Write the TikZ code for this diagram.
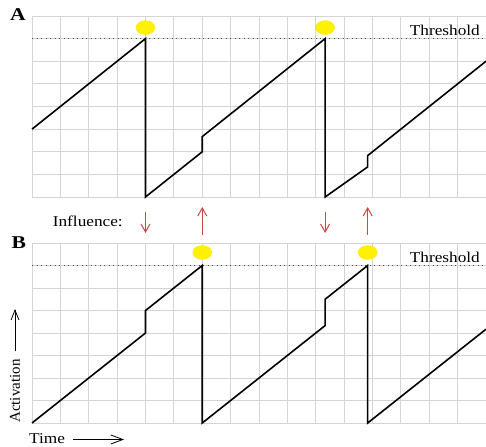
\documentclass[tikz,border=0pt]{standalone}
\usepackage{fontspec}
\setmainfont{Liberation Serif}
\usetikzlibrary{arrows.meta}
\definecolor{inflred}{RGB}{205,70,70}
\definecolor{gridgray}{RGB}{212,212,212}

\begin{document}
\begin{tikzpicture}[x=1pt, y=1pt,
		gridline/.style={draw=gridgray, line width=0.8pt},
		curve/.style={line width=1.6pt, line join=miter},
		thresh/.style={draw=black!70, line width=0.9pt, dash pattern=on 1pt off 3.5pt},
		fire/.style={fill=yellow, draw=yellow!85!orange, line width=0.3pt},
		influence/.style={draw=inflred, line width=1pt, -{Straight Barb[length=8pt, width=9pt, line width=1pt]}},
		axisarrow/.style={line width=0.8pt, -{Straight Barb[length=12pt, width=9pt]}},
		txt/.style={font=\fontsize{15}{18}\selectfont, inner sep=0pt, xscale=1.15},
		panel/.style={font=\fontsize{18}{20}\selectfont\bfseries, inner sep=0pt, xscale=1.2}]
		\useasboundingbox (0,0) rectangle (486,-446);
		
		\begin{scope}[shift={(32,-197)}, x=28.375pt, y=22.625pt]
			\coordinate (F_A1) at (4, 7);
			\coordinate (F_A2) at (10.33, 7);
			\foreach \i in {0,...,16}
				\draw[gridline] (\i,0) -- (\i,8);
			\foreach \j in {0,...,8}
				\draw[gridline] (0,\j) -- (16,\j);
			\draw[thresh] (0,7) -- (16,7);
			\node[txt] (thA) at (14.55, 7.38) {Threshold};
			\node[panel] (lblA) at (-0.5, 8.05) {A};
			\draw[curve] (0,3) -- (F_A1) -- (4,0) -- (6,2) -- (6,2.67) -- (F_A2) -- (10.33,0)
				-- (11.83,1.33) -- (11.83,1.83) -- (16,6);
			\filldraw[fire] ([yshift=11pt]F_A1) ellipse (9.5pt and 7pt);
			\filldraw[fire] ([yshift=11pt]F_A2) ellipse (9.5pt and 7pt);
		\end{scope}
		
		\begin{scope}[shift={(32,-423)}, x=28.375pt, y=22.5pt]
			\coordinate (F_B1) at (6, 7);
			\coordinate (F_B2) at (11.83, 7);
			\foreach \i in {0,...,16}
				\draw[gridline] (\i,0) -- (\i,8);
			\foreach \j in {0,...,8}
				\draw[gridline] (0,\j) -- (16,\j);
			\draw[thresh] (0,7) -- (16,7);
			\node[txt] (thB) at (14.55, 7.38) {Threshold};
			\node[panel] (lblB) at (-0.46, 8.0) {B};
			\draw[curve] (0,0) -- (4,4) -- (4,5) -- (F_B1) -- (6,0) -- (10.33,4.33) -- (10.33,5.5)
				-- (F_B2) -- (11.83,0) -- (16,4.17);
			\filldraw[fire] ([yshift=13pt]F_B1) ellipse (9.5pt and 7pt);
			\filldraw[fire] ([yshift=13pt]F_B2) ellipse (9.5pt and 7pt);
		\end{scope}
		
		\node[txt, anchor=east] (infl) at (123,-221) {Influence:};
		\foreach \f in {F_A1, F_A2}
			\draw[influence] (\f |- 0,-212) -- (\f |- 0,-233);
		\foreach \f in {F_B1, F_B2}
			\draw[influence] (\f |- 0,-235) -- (\f |- 0,-207);
		
		\node[txt, anchor=base west] (time) at (29,-443) {Time};
		\coordinate (T_0) at (73,-439.5);
		\coordinate (T_1) at (124,-439.5);
		\draw[axisarrow] (T_0) -- (T_1);
		
		\node[font=\fontsize{15}{18}\selectfont, inner sep=0pt, rotate=90, anchor=west] (act) at (15,-423) {Activation};
		\coordinate (V_0) at (15,-351);
		\coordinate (V_1) at (15,-309);
		\draw[axisarrow, -{Straight Barb[length=10pt, width=8pt]}] (V_0) -- (V_1);
	\end{tikzpicture}
\end{document}
